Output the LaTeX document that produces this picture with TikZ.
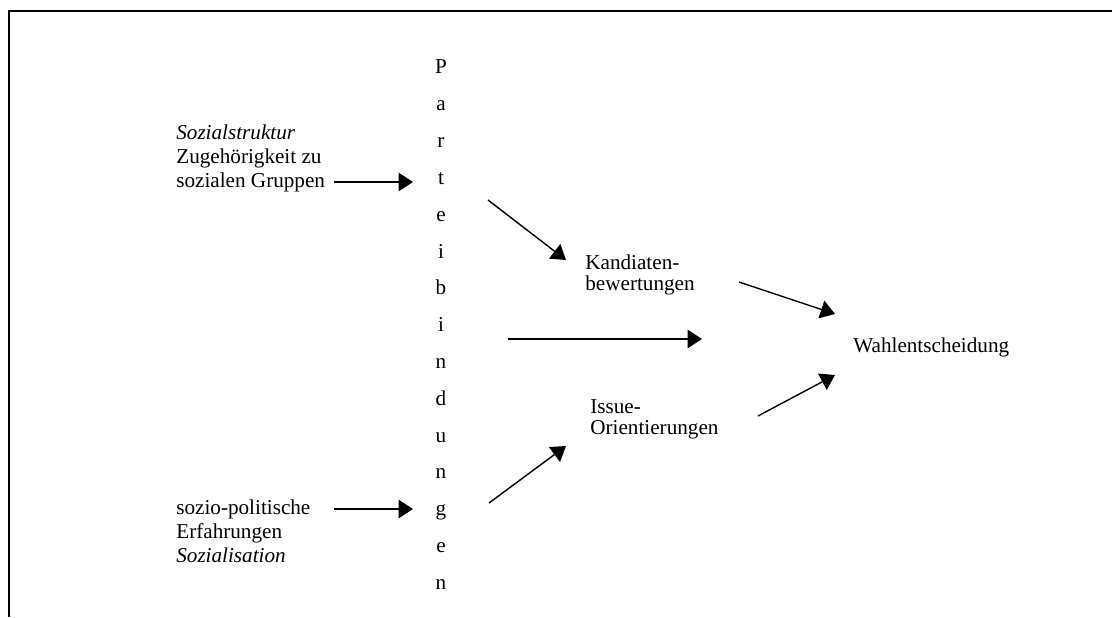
\documentclass[tikz,border=0pt]{standalone}
\usepackage{fontspec}
\setmainfont{Liberation Serif}
\usetikzlibrary{arrows.meta}
\begin{document}
\begin{tikzpicture}[x=0.6pt,y=-0.6pt,
  arr/.style={line width=0.85pt,-{Triangle[length=8.6pt,width=11pt]}},
  txt/.style={inner sep=0pt, align=left, anchor=base west, font=\fontsize{12.7}{14.4}\selectfont},
  mid/.style={inner sep=0pt, align=left, anchor=base west, font=\fontsize{12.7}{12.4}\selectfont},
  letter/.style={inner sep=0pt, anchor=base, font=\fontsize{12.7}{14}\selectfont},
  frame/.style={line width=1.2pt}]
\useasboundingbox (0,0) rectangle (1112,617);
\draw[frame] (9,617) -- (9,11) -- (1112,11);
\foreach \c [count=\i from 0] in {P,a,r,t,e,i,b,i,n,d,u,n,g,e,n}
  \node[letter] (L\i) at (441,74+36.8*\i) {\c};
\node[txt] (sozstr) at (176,187) {\textit{Sozialstruktur}\\Zugehörigkeit zu\\sozialen Gruppen};
\node[txt] (sozpol) at (176,562) {sozio-politische\\Erfahrungen\\\textit{Sozialisation}};
\node[mid] (kand) at (585,290) {Kandiaten-\\bewertungen};
\node[mid] (issue) at (590,434) {Issue-\\Orientierungen};
\node[txt] (wahl) at (853,352) {Wahlentscheidung};
\coordinate (a1s) at (334,182); \coordinate (a1e) at (413,182);
\coordinate (a2s) at (334,509); \coordinate (a2e) at (413,509);
\coordinate (a3s) at (488,200); \coordinate (a3e) at (566,260);
\coordinate (a4s) at (739,282); \coordinate (a4e) at (835,314);
\coordinate (a5s) at (508,339); \coordinate (a5e) at (702,339);
\coordinate (a6s) at (489,503); \coordinate (a6e) at (566,446);
\coordinate (a7s) at (758,416); \coordinate (a7e) at (835,375);
\draw[arr] (a1s) -- (a1e);
\draw[arr] (a2s) -- (a2e);
\draw[arr] (a3s) -- (a3e);
\draw[arr] (a4s) -- (a4e);
\draw[arr] (a5s) -- (a5e);
\draw[arr] (a6s) -- (a6e);
\draw[arr] (a7s) -- (a7e);
\end{tikzpicture}
\end{document}
